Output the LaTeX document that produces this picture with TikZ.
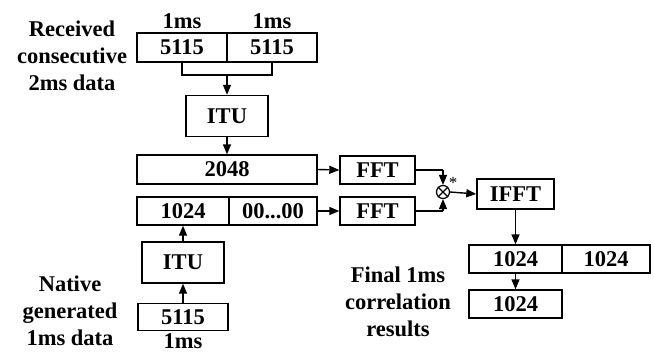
\documentclass[tikz,border=0pt]{standalone}
\usepackage{fontspec}
\setmainfont{Liberation Serif}
\usetikzlibrary{arrows.meta}
\begin{document}
\begin{tikzpicture}[x=1pt,y=-1pt,
  every node/.style={font=\fontsize{22.5}{27}\selectfont\bfseries, inner sep=0pt},
  box/.style={draw, line width=1.4pt, minimum height=29pt},
  conn/.style={line width=1.4pt},
  arr/.style={line width=1.4pt, -{Triangle[length=10pt,width=8pt]}},
  lbl/.style={align=center}]
\useasboundingbox (0,0) rectangle (654,354);
% received data
\node[box, minimum width=90pt] (r1) at (182,47.5) {5115};
\node[box, minimum width=90pt] (r2) at (272,47.5) {5115};
\node (ms1) at (182,21) {1ms};
\node (ms2) at (272,21) {1ms};
\node[lbl] (rtxt) at (72,56) {Received\\consecutive\\2ms data};
\coordinate (bl) at (182,75);
\coordinate (br) at (272,75);
\coordinate (bm) at (227,75);
\draw[conn] (r1.south) -- (bl) -- (br) -- (r2.south);
\node[box, minimum width=82pt, minimum height=41pt] (itu1) at (227,116) {ITU};
\draw[arr] (bm) -- (itu1.north);
\node[box, minimum width=180pt] (b2048) at (227,169.5) {2048};
\draw[arr] (itu1.south) -- (b2048.north);
% second row
\node[box, minimum width=92pt, minimum height=28pt] (l1024) at (183,211) {1024};
\node[box, minimum width=88pt, minimum height=28pt] (zeros) at (273,211) {00...00};
\node[box, minimum width=75pt, minimum height=28pt] (fft1) at (377.5,170) {FFT};
\node[box, minimum width=75pt, minimum height=28pt] (fft2) at (377.5,211) {FFT};
\draw[arr] (b2048.east) -- (fft1.west);
\draw[arr] (zeros.east) -- (fft2.west);
% multiplier
\node[draw, circle, line width=1.2pt, minimum size=13pt] (mul) at (443,192) {};
\draw[line width=1.2pt] (mul.north west) -- (mul.south east) (mul.north east) -- (mul.south west);
\node[font=\fontsize{17}{17}\selectfont] (star) at (453,183) {*};
\coordinate (c1) at (443,170);
\coordinate (c2) at (443,211);
\draw[conn] (fft1.east) -- (c1);
\draw[arr] (c1) -- (mul.north);
\draw[conn] (fft2.east) -- (c2);
\draw[arr] (c2) -- (mul.south);
\node[box, minimum width=77pt, minimum height=30pt] (ifft) at (515.5,194) {IFFT};
\draw[arr] (mul.east) -- (ifft.west);
% results
\node[box, minimum width=93pt, minimum height=28pt] (o1) at (515.5,259) {1024};
\node[box, minimum width=88pt, minimum height=28pt] (o2) at (606,259) {1024};
\node[box, minimum width=93pt, minimum height=28pt] (o3) at (515.5,304) {1024};
\draw[arr] (ifft.south) -- (o1.north);
\draw[arr] (o1.south) -- (o3.north);
\node[lbl] (ftxt) at (398,302) {Final 1ms\\correlation\\results};
% native
\node[box, minimum width=90pt, minimum height=27pt] (n5115) at (183,317) {5115};
\node (ms3) at (183,341) {1ms};
\node[box, minimum width=82pt, minimum height=41pt] (itu2) at (183,262.5) {ITU};
\draw[arr] (n5115.north) -- (itu2.south);
\draw[arr] (itu2.north) -- (l1024.south);
\node[lbl] (ntxt) at (70,311) {Native\\generated\\1ms data};
\end{tikzpicture}
\end{document}
